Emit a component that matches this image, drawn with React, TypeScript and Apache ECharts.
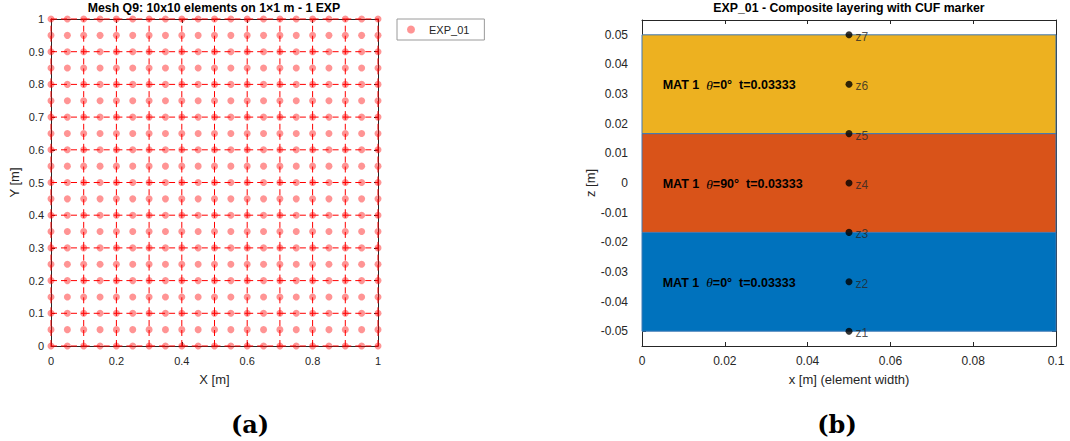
import React, { useEffect, useRef } from "react";
import * as echarts from "echarts";

// ---- Panel (a): Q9 mesh ----
const nodeCoords = [0, 0.05, 0.1, 0.15, 0.2, 0.25, 0.3, 0.35, 0.4, 0.45, 0.5, 0.55, 0.6, 0.65, 0.7, 0.75, 0.8, 0.85, 0.9, 0.95, 1];
const edgeCoords = [0, 0.1, 0.2, 0.3, 0.4, 0.5, 0.6, 0.7, 0.8, 0.9, 1];
const meshSeriesName = "EXP_01";
const meshTitle = "Mesh Q9: 10x10 elements on 1×1 m - 1 EXP";

// ---- Panel (b): layering ----
const layerBottom = [-0.05, -0.016667, 0.016667];
const layerTop = [-0.016667, 0.016667, 0.05];
const layerColor = ["#0072BD", "#D95319", "#EDB120"];
const layerMaterial = ["MAT 1", "MAT 1", "MAT 1"];
const layerAngle = ["0°", "90°", "0°"];
const layerThickness = ["0.03333", "0.03333", "0.03333"];
const elementWidth = [0, 0.1];
const labelX = 0.005;
const cufX = 0.05;
const zValues = [-0.05, -0.033333, -0.016667, 0, 0.016667, 0.033333, 0.05];
const zLabels = ["z1", "z2", "z3", "z4", "z5", "z6", "z7"];
const zTicks = [-0.05, -0.04, -0.03, -0.02, -0.01, 0, 0.01, 0.02, 0.03, 0.04, 0.05];
const layerTitle = "EXP_01 - Composite layering with CUF marker";

const FONT = "'Liberation Sans', Arial, sans-serif";
const AX = "#262626";
const NB2 = "\u00a0\u00a0";

export default function App() {
  const ref = useRef<HTMLDivElement>(null);
  useEffect(() => {
    if (!ref.current) return;
    const chart = echarts.init(ref.current, undefined, { renderer: "svg" });

    const meshNodes: number[][] = [];
    for (const y of nodeCoords) for (const x of nodeCoords) meshNodes.push([x, y]);
    const meshEdges: number[][] = [];
    for (const c of edgeCoords) {
      for (let i = 0; i < edgeCoords.length - 1; i++) {
        meshEdges.push([edgeCoords[i], c, edgeCoords[i + 1], c]);
        meshEdges.push([c, edgeCoords[i], c, edgeCoords[i + 1]]);
      }
    }
    const layers = layerBottom.map((b, i) => [elementWidth[0], elementWidth[1], b, layerTop[i], i]);

    const baseAxis = {
      axisLine: { show: true, onZero: false, lineStyle: { color: AX, width: 1 } },
      axisTick: { show: true, inside: true, length: 4, lineStyle: { color: AX } },
      splitLine: { show: false },
      axisLabel: { color: AX, fontFamily: FONT },
      nameTextStyle: { color: AX, fontFamily: FONT, fontSize: 13 },
    };
    const mirror = (extra: any) => ({
      ...baseAxis,
      ...extra,
      axisLabel: { show: false },
      name: "",
    });
    const fmt1 = (v: number) => String(Math.round(v * 1000) / 1000);
    const fmt2 = (v: number) => (Math.abs(v) < 1e-9 ? "0" : String(Math.round(v * 1000) / 1000));

    chart.setOption({
      animation: false,
      title: [
        {
          text: meshTitle,
          left: 214,
          top: 2,
          textAlign: "center",
          padding: 0,
          textStyle: { fontFamily: FONT, fontSize: 12.3, fontWeight: "bold", color: "#000" },
        },
        {
          text: layerTitle,
          left: 849,
          top: 2,
          textAlign: "center",
          padding: 0,
          textStyle: { fontFamily: FONT, fontSize: 12.3, fontWeight: "bold", color: "#000" },
        },
      ],
      legend: {
        data: [meshSeriesName],
        left: 397,
        top: 19,
        orient: "vertical",
        padding: [5, 15, 5, 10],
        itemWidth: 26,
        itemHeight: 8,
        icon: "circle",
        borderColor: "#9a9a9a",
        borderWidth: 1,
        backgroundColor: "#fff",
        textStyle: { fontFamily: FONT, fontSize: 11, color: AX },
      },
      grid: [
        { left: 51, top: 19, width: 327, height: 327, containLabel: false },
        { left: 642, top: 20, width: 414, height: 326, containLabel: false },
      ],
      xAxis: [
        {
          ...baseAxis,
          gridIndex: 0,
          type: "value",
          min: 0,
          max: 1,
          interval: 0.2,
          position: "bottom",
          name: "X [m]",
          nameLocation: "middle",
          nameGap: 27,
          axisLabel: { ...baseAxis.axisLabel, fontSize: 11, margin: 9, formatter: fmt1 },
        },
        mirror({ gridIndex: 0, type: "value", min: 0, max: 1, interval: 0.2, position: "top" }),
        {
          ...baseAxis,
          gridIndex: 1,
          type: "value",
          min: 0,
          max: 0.1,
          interval: 0.02,
          position: "bottom",
          name: "x [m] (element width)",
          nameLocation: "middle",
          nameGap: 27,
          axisLabel: { ...baseAxis.axisLabel, fontSize: 12, margin: 9, formatter: fmt2 },
        },
        mirror({ gridIndex: 1, type: "value", min: 0, max: 0.1, interval: 0.02, position: "top" }),
      ],
      yAxis: [
        {
          ...baseAxis,
          gridIndex: 0,
          type: "value",
          min: 0,
          max: 1,
          interval: 0.1,
          position: "left",
          name: "Y [m]",
          nameLocation: "middle",
          nameGap: 30,
          axisLabel: { ...baseAxis.axisLabel, fontSize: 11, margin: 7, formatter: fmt1 },
        },
        mirror({ gridIndex: 0, type: "value", min: 0, max: 1, interval: 0.1, position: "right" }),
        {
          ...baseAxis,
          gridIndex: 1,
          type: "value",
          min: -0.055,
          max: 0.055,
          position: "left",
          name: "z [m]",
          nameLocation: "middle",
          nameGap: 38,
          axisTick: { ...baseAxis.axisTick, customValues: zTicks },
          axisLabel: { ...baseAxis.axisLabel, fontSize: 12, margin: 14, customValues: zTicks, formatter: fmt2 },
        },
        {
          ...baseAxis,
          gridIndex: 1,
          type: "value",
          min: -0.055,
          max: 0.055,
          position: "right",
          axisTick: { ...baseAxis.axisTick, customValues: zTicks },
          axisLabel: { show: false },
        },
      ],
      series: [
        {
          type: "custom",
          name: "mesh-edges",
          xAxisIndex: 0,
          yAxisIndex: 0,
          data: meshEdges,
          silent: true,
          z: 3,
          renderItem: (params: any, api: any) => {
            const p1 = api.coord([api.value(0), api.value(1)]);
            const p2 = api.coord([api.value(2), api.value(3)]);
            return {
              type: "line",
              shape: { x1: p1[0], y1: p1[1], x2: p2[0], y2: p2[1] },
              style: { stroke: "#ff0000", lineWidth: 1, lineDash: [6, 4] },
            };
          },
        },
        {
          type: "scatter",
          name: meshSeriesName,
          xAxisIndex: 0,
          yAxisIndex: 0,
          data: meshNodes,
          symbol: "circle",
          symbolSize: 7,
          z: 4,
          itemStyle: { color: "#ff0000", opacity: 0.42 },
        },
        {
          type: "custom",
          name: "layers",
          xAxisIndex: 2,
          yAxisIndex: 2,
          data: layers,
          silent: true,
          z: 3,
          renderItem: (params: any, api: any) => {
            const i = api.value(4);
            const p1 = api.coord([api.value(0), api.value(3)]);
            const p2 = api.coord([api.value(1), api.value(2)]);
            const mid = (layerBottom[i] + layerTop[i]) / 2;
            const pt = api.coord([labelX, mid]);
            return {
              type: "group",
              children: [
                {
                  type: "rect",
                  shape: { x: p1[0], y: p1[1], width: p2[0] - p1[0], height: p2[1] - p1[1] },
                  style: { fill: layerColor[i], stroke: "#3f78b4", lineWidth: 1 },
                },
                {
                  type: "text",
                  x: pt[0],
                  y: pt[1] + 1,
                  style: {
                    text: `{b|${layerMaterial[i]}${NB2}}{i|θ}{b|=${layerAngle[i]}${NB2}t=${layerThickness[i]}}`,
                    align: "left",
                    verticalAlign: "middle",
                    rich: {
                      b: { fontFamily: FONT, fontSize: 12.5, fontWeight: "bold", fill: "#000" },
                      i: { fontFamily: "'Liberation Serif', serif", fontSize: 13.5, fontStyle: "italic", fill: "#000" },
                    },
                  },
                },
              ],
            };
          },
        },
        {
          type: "scatter",
          name: "CUF",
          xAxisIndex: 2,
          yAxisIndex: 2,
          data: zValues.map((z) => [cufX, z]),
          symbol: "circle",
          symbolSize: 7,
          z: 5,
          itemStyle: { color: "#000" },
          label: {
            show: true,
            position: "right",
            distance: 3,
            offset: [0, 2],
            fontFamily: FONT,
            fontSize: 12,
            color: AX,
            formatter: (p: any) => zLabels[p.dataIndex],
          },
        },
      ],
      graphic: [
        {
          type: "text",
          x: 250,
          y: 424,
          style: {
            text: "(a)",
            align: "center",
            verticalAlign: "middle",
            fontFamily: "'DejaVu Serif', serif",
            fontWeight: "bold",
            fontSize: 24,
            fill: "#000",
          },
        },
        {
          type: "text",
          x: 837,
          y: 424,
          style: {
            text: "(b)",
            align: "center",
            verticalAlign: "middle",
            fontFamily: "'DejaVu Serif', serif",
            fontWeight: "bold",
            fontSize: 24,
            fill: "#000",
          },
        },
      ],
    });
    return () => chart.dispose();
  }, []);
  return (
    <div
      ref={ref}
      style={{ position: "absolute", left: 0, top: 0, width: 1070, height: 441, background: "#fff" }}
    />
  );
}
